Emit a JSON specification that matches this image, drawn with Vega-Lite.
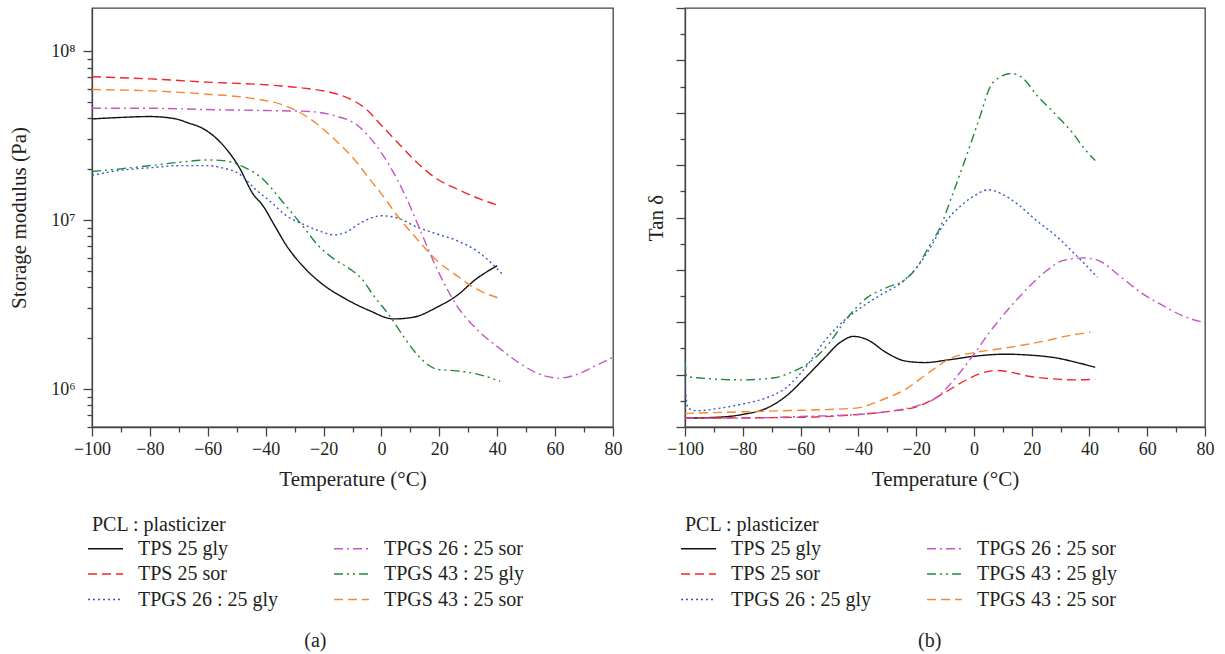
{
  "$schema": "https://vega.github.io/schema/vega-lite/v6.json",
  "padding": {"top": 6, "left": 8, "right": 5, "bottom": 2},
  "background": "white",
  "datasets": {
    "a": [
      {"s": "TPS 25 gly", "t": -100, "v": 3.97e7},
      {"s": "TPS 25 gly", "t": -90.2, "v": 4.05e7},
      {"s": "TPS 25 gly", "t": -80, "v": 4.1e7},
      {"s": "TPS 25 gly", "t": -71, "v": 3.97e7},
      {"s": "TPS 25 gly", "t": -67, "v": 3.77e7},
      {"s": "TPS 25 gly", "t": -61.5, "v": 3.47e7},
      {"s": "TPS 25 gly", "t": -54.6, "v": 2.76e7},
      {"s": "TPS 25 gly", "t": -49.2, "v": 2.06e7},
      {"s": "TPS 25 gly", "t": -44.4, "v": 1.43e7},
      {"s": "TPS 25 gly", "t": -41, "v": 1.22e7},
      {"s": "TPS 25 gly", "t": -36.9, "v": 9.27e6},
      {"s": "TPS 25 gly", "t": -32.8, "v": 7.06e6},
      {"s": "TPS 25 gly", "t": -27.3, "v": 5.37e6},
      {"s": "TPS 25 gly", "t": -20.5, "v": 4.19e6},
      {"s": "TPS 25 gly", "t": -12.3, "v": 3.41e6},
      {"s": "TPS 25 gly", "t": -4.1, "v": 2.91e6},
      {"s": "TPS 25 gly", "t": 4.1, "v": 2.6e6},
      {"s": "TPS 25 gly", "t": 11, "v": 2.66e6},
      {"s": "TPS 25 gly", "t": 19.2, "v": 3.05e6},
      {"s": "TPS 25 gly", "t": 26, "v": 3.57e6},
      {"s": "TPS 25 gly", "t": 32.8, "v": 4.49e6},
      {"s": "TPS 25 gly", "t": 40, "v": 5.37e6},

      {"s": "TPS 25 sor", "t": -100, "v": 7.05e7},
      {"s": "TPS 25 sor", "t": -80, "v": 6.85e7},
      {"s": "TPS 25 sor", "t": -60, "v": 6.55e7},
      {"s": "TPS 25 sor", "t": -40, "v": 6.32e7},
      {"s": "TPS 25 sor", "t": -27, "v": 6.04e7},
      {"s": "TPS 25 sor", "t": -17.7, "v": 5.71e7},
      {"s": "TPS 25 sor", "t": -10.9, "v": 5.22e7},
      {"s": "TPS 25 sor", "t": -5.4, "v": 4.55e7},
      {"s": "TPS 25 sor", "t": 0, "v": 3.63e7},
      {"s": "TPS 25 sor", "t": 5.5, "v": 2.89e7},
      {"s": "TPS 25 sor", "t": 11, "v": 2.3e7},
      {"s": "TPS 25 sor", "t": 19.2, "v": 1.75e7},
      {"s": "TPS 25 sor", "t": 26, "v": 1.53e7},
      {"s": "TPS 25 sor", "t": 34.2, "v": 1.33e7},
      {"s": "TPS 25 sor", "t": 41, "v": 1.21e7},

      {"s": "TPGS 26 : 25 gly", "t": -100, "v": 1.84e7},
      {"s": "TPGS 26 : 25 gly", "t": -90.2, "v": 1.97e7},
      {"s": "TPGS 26 : 25 gly", "t": -80, "v": 2.04e7},
      {"s": "TPGS 26 : 25 gly", "t": -69.7, "v": 2.1e7},
      {"s": "TPGS 26 : 25 gly", "t": -60, "v": 2.1e7},
      {"s": "TPGS 26 : 25 gly", "t": -54.6, "v": 2.03e7},
      {"s": "TPGS 26 : 25 gly", "t": -49.2, "v": 1.88e7},
      {"s": "TPGS 26 : 25 gly", "t": -43.7, "v": 1.53e7},
      {"s": "TPGS 26 : 25 gly", "t": -38.2, "v": 1.28e7},
      {"s": "TPGS 26 : 25 gly", "t": -32.8, "v": 1.06e7},
      {"s": "TPGS 26 : 25 gly", "t": -27.3, "v": 9.49e6},
      {"s": "TPGS 26 : 25 gly", "t": -21.8, "v": 8.67e6},
      {"s": "TPGS 26 : 25 gly", "t": -16.4, "v": 8.17e6},
      {"s": "TPGS 26 : 25 gly", "t": -12.3, "v": 8.47e6},
      {"s": "TPGS 26 : 25 gly", "t": -6.8, "v": 9.71e6},
      {"s": "TPGS 26 : 25 gly", "t": 0, "v": 1.06e7},
      {"s": "TPGS 26 : 25 gly", "t": 5.5, "v": 1.03e7},
      {"s": "TPGS 26 : 25 gly", "t": 12.3, "v": 9.08e6},
      {"s": "TPGS 26 : 25 gly", "t": 19.2, "v": 8.28e6},
      {"s": "TPGS 26 : 25 gly", "t": 26, "v": 7.57e6},
      {"s": "TPGS 26 : 25 gly", "t": 32.8, "v": 6.59e6},
      {"s": "TPGS 26 : 25 gly", "t": 38.3, "v": 5.5e6},
      {"s": "TPGS 26 : 25 gly", "t": 41.7, "v": 4.8e6},

      {"s": "TPGS 26 : 25 sor", "t": -100, "v": 4.59e7},
      {"s": "TPGS 26 : 25 sor", "t": -80, "v": 4.59e7},
      {"s": "TPGS 26 : 25 sor", "t": -60, "v": 4.51e7},
      {"s": "TPGS 26 : 25 sor", "t": -40, "v": 4.45e7},
      {"s": "TPGS 26 : 25 sor", "t": -25.9, "v": 4.4e7},
      {"s": "TPGS 26 : 25 sor", "t": -16.4, "v": 4.16e7},
      {"s": "TPGS 26 : 25 sor", "t": -8.2, "v": 3.63e7},
      {"s": "TPGS 26 : 25 sor", "t": -2.7, "v": 2.89e7},
      {"s": "TPGS 26 : 25 sor", "t": 2.8, "v": 2.1e7},
      {"s": "TPGS 26 : 25 sor", "t": 8.2, "v": 1.4e7},
      {"s": "TPGS 26 : 25 sor", "t": 13.7, "v": 8.47e6},
      {"s": "TPGS 26 : 25 sor", "t": 19.2, "v": 5.14e6},
      {"s": "TPGS 26 : 25 sor", "t": 26, "v": 3.12e6},
      {"s": "TPGS 26 : 25 sor", "t": 32.8, "v": 2.27e6},
      {"s": "TPGS 26 : 25 sor", "t": 41, "v": 1.73e6},
      {"s": "TPGS 26 : 25 sor", "t": 49.2, "v": 1.37e6},
      {"s": "TPGS 26 : 25 sor", "t": 56, "v": 1.2e6},
      {"s": "TPGS 26 : 25 sor", "t": 61.5, "v": 1.16e6},
      {"s": "TPGS 26 : 25 sor", "t": 67, "v": 1.21e6},
      {"s": "TPGS 26 : 25 sor", "t": 73.8, "v": 1.37e6},
      {"s": "TPGS 26 : 25 sor", "t": 80, "v": 1.54e6},

      {"s": "TPGS 43 : 25 gly", "t": -100, "v": 1.94e7},
      {"s": "TPGS 43 : 25 gly", "t": -90.2, "v": 2.01e7},
      {"s": "TPGS 43 : 25 gly", "t": -80, "v": 2.1e7},
      {"s": "TPGS 43 : 25 gly", "t": -69.7, "v": 2.2e7},
      {"s": "TPGS 43 : 25 gly", "t": -60, "v": 2.27e7},
      {"s": "TPGS 43 : 25 gly", "t": -54.6, "v": 2.25e7},
      {"s": "TPGS 43 : 25 gly", "t": -47.8, "v": 2.07e7},
      {"s": "TPGS 43 : 25 gly", "t": -41, "v": 1.75e7},
      {"s": "TPGS 43 : 25 gly", "t": -34.1, "v": 1.28e7},
      {"s": "TPGS 43 : 25 gly", "t": -27.3, "v": 9.27e6},
      {"s": "TPGS 43 : 25 gly", "t": -21.8, "v": 7.06e6},
      {"s": "TPGS 43 : 25 gly", "t": -16.4, "v": 5.89e6},
      {"s": "TPGS 43 : 25 gly", "t": -10.9, "v": 5.14e6},
      {"s": "TPGS 43 : 25 gly", "t": -6.8, "v": 4.49e6},
      {"s": "TPGS 43 : 25 gly", "t": -2.7, "v": 3.57e6},
      {"s": "TPGS 43 : 25 gly", "t": 2.8, "v": 2.72e6},
      {"s": "TPGS 43 : 25 gly", "t": 8.2, "v": 1.98e6},
      {"s": "TPGS 43 : 25 gly", "t": 13.7, "v": 1.51e6},
      {"s": "TPGS 43 : 25 gly", "t": 19.2, "v": 1.31e6},
      {"s": "TPGS 43 : 25 gly", "t": 26, "v": 1.28e6},
      {"s": "TPGS 43 : 25 gly", "t": 32.8, "v": 1.23e6},
      {"s": "TPGS 43 : 25 gly", "t": 41, "v": 1.11e6},

      {"s": "TPGS 43 : 25 sor", "t": -100, "v": 5.93e7},
      {"s": "TPGS 43 : 25 sor", "t": -80, "v": 5.82e7},
      {"s": "TPGS 43 : 25 sor", "t": -60, "v": 5.56e7},
      {"s": "TPGS 43 : 25 sor", "t": -43.7, "v": 5.22e7},
      {"s": "TPGS 43 : 25 sor", "t": -32.8, "v": 4.72e7},
      {"s": "TPGS 43 : 25 sor", "t": -24.6, "v": 3.97e7},
      {"s": "TPGS 43 : 25 sor", "t": -16.4, "v": 3.03e7},
      {"s": "TPGS 43 : 25 sor", "t": -9.5, "v": 2.3e7},
      {"s": "TPGS 43 : 25 sor", "t": -4.1, "v": 1.75e7},
      {"s": "TPGS 43 : 25 sor", "t": 0, "v": 1.43e7},
      {"s": "TPGS 43 : 25 sor", "t": 5.5, "v": 1.06e7},
      {"s": "TPGS 43 : 25 sor", "t": 12.3, "v": 7.73e6},
      {"s": "TPGS 43 : 25 sor", "t": 19.2, "v": 5.75e6},
      {"s": "TPGS 43 : 25 sor", "t": 26, "v": 4.69e6},
      {"s": "TPGS 43 : 25 sor", "t": 32.8, "v": 3.91e6},
      {"s": "TPGS 43 : 25 sor", "t": 40.8, "v": 3.44e6}
    ],
    "b": [
      {"s": "TPS 25 gly", "t": -100, "v": 0.017},
      {"s": "TPS 25 gly", "t": -89, "v": 0.0185},
      {"s": "TPS 25 gly", "t": -80, "v": 0.024},
      {"s": "TPS 25 gly", "t": -71.7, "v": 0.036},
      {"s": "TPS 25 gly", "t": -65, "v": 0.059},
      {"s": "TPS 25 gly", "t": -58.4, "v": 0.094},
      {"s": "TPS 25 gly", "t": -51.7, "v": 0.132},
      {"s": "TPS 25 gly", "t": -46.4, "v": 0.161},
      {"s": "TPS 25 gly", "t": -41.7, "v": 0.173},
      {"s": "TPS 25 gly", "t": -37, "v": 0.167},
      {"s": "TPS 25 gly", "t": -30.3, "v": 0.142},
      {"s": "TPS 25 gly", "t": -23.7, "v": 0.126},
      {"s": "TPS 25 gly", "t": -17, "v": 0.123},
      {"s": "TPS 25 gly", "t": -9, "v": 0.128},
      {"s": "TPS 25 gly", "t": 0, "v": 0.135},
      {"s": "TPS 25 gly", "t": 11, "v": 0.139},
      {"s": "TPS 25 gly", "t": 20, "v": 0.137},
      {"s": "TPS 25 gly", "t": 28.4, "v": 0.132},
      {"s": "TPS 25 gly", "t": 35, "v": 0.124},
      {"s": "TPS 25 gly", "t": 42, "v": 0.114},

      {"s": "TPS 25 sor", "t": -100, "v": 0.017},
      {"s": "TPS 25 sor", "t": -60, "v": 0.0185},
      {"s": "TPS 25 sor", "t": -40, "v": 0.024},
      {"s": "TPS 25 sor", "t": -29, "v": 0.03},
      {"s": "TPS 25 sor", "t": -18.3, "v": 0.0415},
      {"s": "TPS 25 sor", "t": -10.3, "v": 0.065},
      {"s": "TPS 25 sor", "t": -2.3, "v": 0.091},
      {"s": "TPS 25 sor", "t": 3, "v": 0.1035},
      {"s": "TPS 25 sor", "t": 7.7, "v": 0.108},
      {"s": "TPS 25 sor", "t": 12.4, "v": 0.105},
      {"s": "TPS 25 sor", "t": 19, "v": 0.097},
      {"s": "TPS 25 sor", "t": 27, "v": 0.092},
      {"s": "TPS 25 sor", "t": 35, "v": 0.09},
      {"s": "TPS 25 sor", "t": 42, "v": 0.091},

      {"s": "TPGS 26 : 25 gly", "t": -100, "v": 0.081},
      {"s": "TPGS 26 : 25 gly", "t": -99, "v": 0.036},
      {"s": "TPGS 26 : 25 gly", "t": -95.7, "v": 0.031},
      {"s": "TPGS 26 : 25 gly", "t": -89, "v": 0.035},
      {"s": "TPGS 26 : 25 gly", "t": -80, "v": 0.044},
      {"s": "TPGS 26 : 25 gly", "t": -71.7, "v": 0.056},
      {"s": "TPGS 26 : 25 gly", "t": -65, "v": 0.075},
      {"s": "TPGS 26 : 25 gly", "t": -58.4, "v": 0.113},
      {"s": "TPGS 26 : 25 gly", "t": -51.7, "v": 0.164},
      {"s": "TPGS 26 : 25 gly", "t": -45, "v": 0.203},
      {"s": "TPGS 26 : 25 gly", "t": -38.3, "v": 0.231},
      {"s": "TPGS 26 : 25 gly", "t": -31.7, "v": 0.254},
      {"s": "TPGS 26 : 25 gly", "t": -25, "v": 0.276},
      {"s": "TPGS 26 : 25 gly", "t": -19.7, "v": 0.305},
      {"s": "TPGS 26 : 25 gly", "t": -15.7, "v": 0.337},
      {"s": "TPGS 26 : 25 gly", "t": -10.3, "v": 0.388},
      {"s": "TPGS 26 : 25 gly", "t": -5, "v": 0.42},
      {"s": "TPGS 26 : 25 gly", "t": 0.3, "v": 0.442},
      {"s": "TPGS 26 : 25 gly", "t": 5, "v": 0.453},
      {"s": "TPGS 26 : 25 gly", "t": 9.7, "v": 0.445},
      {"s": "TPGS 26 : 25 gly", "t": 15, "v": 0.426},
      {"s": "TPGS 26 : 25 gly", "t": 21.7, "v": 0.394},
      {"s": "TPGS 26 : 25 gly", "t": 28.4, "v": 0.365},
      {"s": "TPGS 26 : 25 gly", "t": 35, "v": 0.33},
      {"s": "TPGS 26 : 25 gly", "t": 42.8, "v": 0.286},

      {"s": "TPGS 26 : 25 sor", "t": -100, "v": 0.017},
      {"s": "TPGS 26 : 25 sor", "t": -80, "v": 0.017},
      {"s": "TPGS 26 : 25 sor", "t": -60, "v": 0.02},
      {"s": "TPGS 26 : 25 sor", "t": -40, "v": 0.024},
      {"s": "TPGS 26 : 25 sor", "t": -29, "v": 0.03},
      {"s": "TPGS 26 : 25 sor", "t": -20, "v": 0.04},
      {"s": "TPGS 26 : 25 sor", "t": -13, "v": 0.056},
      {"s": "TPGS 26 : 25 sor", "t": -6.3, "v": 0.094},
      {"s": "TPGS 26 : 25 sor", "t": 0, "v": 0.139},
      {"s": "TPGS 26 : 25 sor", "t": 5.7, "v": 0.183},
      {"s": "TPGS 26 : 25 sor", "t": 11, "v": 0.219},
      {"s": "TPGS 26 : 25 sor", "t": 17.7, "v": 0.26},
      {"s": "TPGS 26 : 25 sor", "t": 24.4, "v": 0.295},
      {"s": "TPGS 26 : 25 sor", "t": 31, "v": 0.318},
      {"s": "TPGS 26 : 25 sor", "t": 37.7, "v": 0.323},
      {"s": "TPGS 26 : 25 sor", "t": 43, "v": 0.318},
      {"s": "TPGS 26 : 25 sor", "t": 51, "v": 0.286},
      {"s": "TPGS 26 : 25 sor", "t": 57.7, "v": 0.257},
      {"s": "TPGS 26 : 25 sor", "t": 64.4, "v": 0.235},
      {"s": "TPGS 26 : 25 sor", "t": 72.4, "v": 0.212},
      {"s": "TPGS 26 : 25 sor", "t": 80, "v": 0.199},

      {"s": "TPGS 43 : 25 gly", "t": -100, "v": 0.126},
      {"s": "TPGS 43 : 25 gly", "t": -99.5, "v": 0.097},
      {"s": "TPGS 43 : 25 gly", "t": -95.7, "v": 0.094},
      {"s": "TPGS 43 : 25 gly", "t": -80, "v": 0.09},
      {"s": "TPGS 43 : 25 gly", "t": -69, "v": 0.094},
      {"s": "TPGS 43 : 25 gly", "t": -63.7, "v": 0.1035},
      {"s": "TPGS 43 : 25 gly", "t": -57, "v": 0.123},
      {"s": "TPGS 43 : 25 gly", "t": -50.4, "v": 0.158},
      {"s": "TPGS 43 : 25 gly", "t": -43.7, "v": 0.209},
      {"s": "TPGS 43 : 25 gly", "t": -37, "v": 0.247},
      {"s": "TPGS 43 : 25 gly", "t": -30.3, "v": 0.266},
      {"s": "TPGS 43 : 25 gly", "t": -23.7, "v": 0.282},
      {"s": "TPGS 43 : 25 gly", "t": -19.7, "v": 0.305},
      {"s": "TPGS 43 : 25 gly", "t": -15.7, "v": 0.343},
      {"s": "TPGS 43 : 25 gly", "t": -11.7, "v": 0.381},
      {"s": "TPGS 43 : 25 gly", "t": -7.7, "v": 0.439},
      {"s": "TPGS 43 : 25 gly", "t": -2.3, "v": 0.522},
      {"s": "TPGS 43 : 25 gly", "t": 1.7, "v": 0.586},
      {"s": "TPGS 43 : 25 gly", "t": 5.7, "v": 0.65},
      {"s": "TPGS 43 : 25 gly", "t": 9, "v": 0.668},
      {"s": "TPGS 43 : 25 gly", "t": 13, "v": 0.675},
      {"s": "TPGS 43 : 25 gly", "t": 17, "v": 0.666},
      {"s": "TPGS 43 : 25 gly", "t": 21.7, "v": 0.634},
      {"s": "TPGS 43 : 25 gly", "t": 28.4, "v": 0.596},
      {"s": "TPGS 43 : 25 gly", "t": 34.4, "v": 0.56},
      {"s": "TPGS 43 : 25 gly", "t": 37.7, "v": 0.535},
      {"s": "TPGS 43 : 25 gly", "t": 42, "v": 0.509},

      {"s": "TPGS 43 : 25 sor", "t": -100, "v": 0.026},
      {"s": "TPGS 43 : 25 sor", "t": -80, "v": 0.029},
      {"s": "TPGS 43 : 25 sor", "t": -60, "v": 0.032},
      {"s": "TPGS 43 : 25 sor", "t": -41, "v": 0.036},
      {"s": "TPGS 43 : 25 sor", "t": -31.7, "v": 0.052},
      {"s": "TPGS 43 : 25 sor", "t": -23.7, "v": 0.072},
      {"s": "TPGS 43 : 25 sor", "t": -15.7, "v": 0.1035},
      {"s": "TPGS 43 : 25 sor", "t": -7.7, "v": 0.132},
      {"s": "TPGS 43 : 25 sor", "t": 0, "v": 0.142},
      {"s": "TPGS 43 : 25 sor", "t": 11, "v": 0.151},
      {"s": "TPGS 43 : 25 sor", "t": 24.4, "v": 0.164},
      {"s": "TPGS 43 : 25 sor", "t": 32.4, "v": 0.174},
      {"s": "TPGS 43 : 25 sor", "t": 40.4, "v": 0.181}
    ]
  },
  "hconcat": [
    {
      "width": 521,
      "height": 419,
      "data": {"name": "a"},
      "title": {"text": "(a)", "orient": "bottom", "anchor": "middle", "frame": "bounds", "offset": 21},
      "mark": {"type": "line", "strokeWidth": 1.4, "clip": true, "interpolate": "monotone"},
      "encoding": {
        "x": {
          "field": "t", "type": "quantitative",
          "scale": {"domain": [-100, 80], "nice": false, "zero": false},
          "axis": {
            "title": "Temperature (°C)",
            "values": [-100, -90, -80, -70, -60, -50, -40, -30, -20, -10, 0, 10, 20, 30, 40, 50, 60, 70, 80],
            "labelExpr": "datum.value % 20 == 0 ? datum.label : ''",
            "tickSize": {"condition": {"test": "datum.value % 20 == 0", "value": 9}, "value": 5}
          }
        },
        "y": {
          "field": "v", "type": "quantitative",
          "scale": {"type": "log", "domain": [596000, 180000000], "nice": false},
          "axis": {
            "title": "Storage modulus (Pa)",
            "titlePadding": 21,
            "labelPadding": 8,
            "values": [600000, 700000, 800000, 900000, 1000000, 2000000, 3000000, 4000000, 5000000, 6000000, 7000000, 8000000, 9000000, 10000000, 20000000, 30000000, 40000000, 50000000, 60000000, 70000000, 80000000, 90000000, 100000000],
            "labelExpr": "datum.value == 1000000 ? '10⁶' : datum.value == 10000000 ? '10⁷' : datum.value == 100000000 ? '10⁸' : ''",
            "tickSize": {"condition": {"test": "datum.value == 1000000 || datum.value == 10000000 || datum.value == 100000000", "value": 9}, "value": 5}
          }
        },
        "color": {
          "field": "s", "type": "nominal",
          "scale": {
            "domain": ["TPS 25 gly", "TPS 25 sor", "TPGS 26 : 25 gly", "TPGS 26 : 25 sor", "TPGS 43 : 25 gly", "TPGS 43 : 25 sor"],
            "range": ["#111111", "#f2262a", "#3a55c8", "#c455c4", "#1f8a3a", "#f7882f"]
          },
          "legend": {"title": "PCL : plasticizer"}
        },
        "strokeDash": {
          "field": "s", "type": "nominal",
          "scale": {
            "domain": ["TPS 25 gly", "TPS 25 sor", "TPGS 26 : 25 gly", "TPGS 26 : 25 sor", "TPGS 43 : 25 gly", "TPGS 43 : 25 sor"],
            "range": [[1, 0], [9, 5], [2, 3], [9, 4, 2, 4], [9, 4, 2, 4, 2, 4], [9, 5]]
          },
          "legend": {"title": "PCL : plasticizer"}
        }
      }
    },
    {
      "width": 520,
      "height": 419,
      "data": {"name": "b"},
      "title": {"text": "(b)", "orient": "bottom", "anchor": "middle", "frame": "bounds", "offset": 21},
      "mark": {"type": "line", "strokeWidth": 1.4, "clip": true, "interpolate": "monotone"},
      "encoding": {
        "x": {
          "field": "t", "type": "quantitative",
          "scale": {"domain": [-100, 80], "nice": false, "zero": false},
          "axis": {
            "title": "Temperature (°C)",
            "values": [-100, -90, -80, -70, -60, -50, -40, -30, -20, -10, 0, 10, 20, 30, 40, 50, 60, 70, 80],
            "labelExpr": "datum.value % 20 == 0 ? datum.label : ''",
            "tickSize": {"condition": {"test": "datum.value % 20 == 0", "value": 9}, "value": 5}
          }
        },
        "y": {
          "field": "v", "type": "quantitative",
          "scale": {"domain": [0, 0.8], "nice": false, "zero": false},
          "axis": {
            "title": "Tan δ",
            "titlePadding": 9,
            "labels": false,
            "values": [0, 0.05, 0.1, 0.15, 0.2, 0.25, 0.3, 0.35, 0.4, 0.45, 0.5, 0.55, 0.6, 0.65, 0.7, 0.75, 0.8],
            "tickSize": {"condition": {"test": "abs(datum.value * 10 - round(datum.value * 10)) < 0.01", "value": 9}, "value": 5}
          }
        },
        "color": {
          "field": "s", "type": "nominal",
          "scale": {
            "domain": ["TPS 25 gly", "TPS 25 sor", "TPGS 26 : 25 gly", "TPGS 26 : 25 sor", "TPGS 43 : 25 gly", "TPGS 43 : 25 sor"],
            "range": ["#111111", "#f2262a", "#3a55c8", "#c455c4", "#1f8a3a", "#f7882f"]
          },
          "legend": {"title": "PCL : plasticizer"}
        },
        "strokeDash": {
          "field": "s", "type": "nominal",
          "scale": {
            "domain": ["TPS 25 gly", "TPS 25 sor", "TPGS 26 : 25 gly", "TPGS 26 : 25 sor", "TPGS 43 : 25 gly", "TPGS 43 : 25 sor"],
            "range": [[1, 0], [9, 5], [2, 3], [9, 4, 2, 4], [9, 4, 2, 4, 2, 4], [9, 5]]
          },
          "legend": {"title": "PCL : plasticizer"}
        }
      }
    }
  ],
  "spacing": 21,
  "resolve": {
    "scale": {"color": "independent", "strokeDash": "independent"},
    "legend": {"color": "independent", "strokeDash": "independent"}
  },
  "config": {
    "font": "Liberation Serif",
    "view": {"stroke": "#444444", "strokeWidth": 1.3},
    "axis": {
      "grid": false,
      "domainColor": "#444444",
      "domainWidth": 1.3,
      "tickColor": "#444444",
      "tickWidth": 1.3,
      "labelFont": "Liberation Serif",
      "labelFontSize": 18,
      "labelColor": "#231f20",
      "labelPadding": 4,
      "labelFlush": false,
      "labelOverlap": false,
      "titleFont": "Liberation Serif",
      "titleFontSize": 21,
      "titleFontWeight": "normal",
      "titleColor": "#231f20"
    },
    "axisX": {"titlePadding": 10},
    "legend": {
      "orient": "bottom",
      "direction": "vertical",
      "columns": 2,
      "symbolType": "M-1.4,0H1.4",
      "symbolSize": 625,
      "symbolStrokeWidth": 1.5,
      "labelFont": "Liberation Serif",
      "labelFontSize": 20,
      "labelColor": "#231f20",
      "labelOffset": 19,
      "titleFont": "Liberation Serif",
      "titleFontSize": 20,
      "titleFontWeight": "normal",
      "titleColor": "#231f20",
      "titlePadding": 0,
      "rowPadding": 1.5,
      "columnPadding": 52,
      "offset": 26
    },
    "title": {"font": "Liberation Serif", "fontSize": 20, "fontWeight": "normal", "color": "#231f20"}
  }
}
